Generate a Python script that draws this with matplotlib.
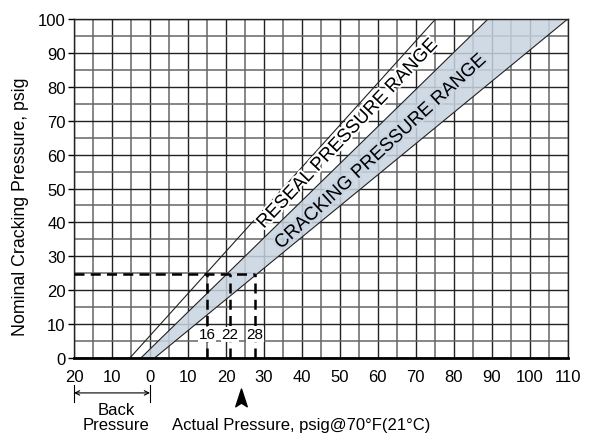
import numpy as np
import matplotlib
matplotlib.use("Agg")
import matplotlib.pyplot as plt
from matplotlib.path import Path
import matplotlib.transforms as mtrans
import matplotlib.patheffects as pe

plt.rcParams['font.family'] = ['Liberation Sans', 'DejaVu Sans']

# axis ticks (x left of 0 is back pressure)
x_ticks = [-20, -10, 0, 10, 20, 30, 40, 50, 60, 70, 80, 90, 100, 110]
x_tick_labels = ['20', '10', '0', '10', '20', '30', '40', '50', '60', '70', '80', '90', '100', '110']
y_ticks = [0, 10, 20, 30, 40, 50, 60, 70, 80, 90, 100]

# boundary lines of the two ranges (actual pressure vs nominal cracking pressure)
reseal_x = [-5.3, 75.2]; reseal_y = [0, 100]
mid_x = [-2.4, 89.0];    mid_y = [0, 100]
crack_x = [1.2, 110.0];  crack_y = [0, 100]

# worked example
nominal = 24.7
example_x = [15.1, 21.0, 27.6]
example_labels = ['16', '22', '28']
example_label_y = 7

BAND = '#c8d4e1'
fig = plt.figure(figsize=(5.97, 4.35), dpi=100)
ax = fig.add_axes([0.124, 0.1747, 0.827, 0.7793])
ax.set_xlim(-20, 110); ax.set_ylim(0, 100)

ax.set_xticks(x_ticks); ax.set_xticklabels(x_tick_labels)
ax.set_xticks(np.arange(-20, 111, 5), minor=True)
ax.set_yticks(y_ticks)
ax.set_yticks(np.arange(0, 101, 5), minor=True)
ax.tick_params(axis='x', which='both', length=0, pad=8, labelsize=12)
ax.tick_params(axis='y', which='major', length=4, width=1, pad=2, labelsize=12)
ax.tick_params(axis='y', which='minor', length=0)
ax.grid(which='major', color='#222222', lw=1.0, zorder=0)
ax.grid(which='minor', color='#666666', lw=1.1, zorder=0)
ax.set_axisbelow(True)
for s in ['top', 'right', 'left']:
    ax.spines[s].set_color('#222222'); ax.spines[s].set_linewidth(1.0)
ax.spines['bottom'].set_linewidth(2.0)

# cracking band
ax.fill(mid_x + crack_x[::-1], mid_y + crack_y[::-1], color=BAND, alpha=0.85, lw=0, zorder=1)
for xs, ys in [(reseal_x, reseal_y), (mid_x, mid_y), (crack_x, crack_y)]:
    ax.plot(xs, ys, color='#222222', lw=0.8, zorder=2)

ax.text(52.1, 66.1, 'RESEAL PRESSURE RANGE', rotation=46.5, ha='center', va='center',
        rotation_mode='anchor', fontsize=13.5, zorder=3,
        path_effects=[pe.withStroke(linewidth=3, foreground='white')])
ax.text(60.8, 60.8, 'CRACKING PRESSURE RANGE', rotation=42.5, ha='center', va='center',
        rotation_mode='anchor', fontsize=13.5, zorder=3,
        path_effects=[pe.withStroke(linewidth=3, foreground=BAND)])

# dashed example lines
ax.plot([-20, max(example_x)], [nominal, nominal], color='black', lw=1.8,
        dashes=(4, 2.5), zorder=4, clip_on=False)
for xv, lab in zip(example_x, example_labels):
    ax.plot([xv, xv], [0, nominal], color='black', lw=1.8, dashes=(4, 2.5), zorder=4)
    ax.text(xv, example_label_y, lab, ha='center', va='center', fontsize=11, zorder=5,
            bbox=dict(fc='white', ec='none', pad=0.3))

fig.text(0.034, 0.524, 'Nominal Cracking Pressure, psig', rotation=90, ha='center',
         va='center', fontsize=12.8)

# back pressure marker and x label
trans = mtrans.blended_transform_factory(ax.transData, ax.transAxes)
ax.annotate('', xy=(-20, -0.103), xytext=(0, -0.103), xycoords=trans, textcoords=trans,
            arrowprops=dict(arrowstyle='<->', lw=0.8, color='black',
                            mutation_scale=8, shrinkA=0, shrinkB=0))
for xv in [-20, 0]:
    ax.plot([xv, xv], [-0.08, -0.13], transform=trans, color='black', lw=0.8, clip_on=False)
ax.text(-9, -0.152, 'Back', transform=trans, ha='center', va='center', fontsize=12)
ax.text(-9, -0.197, 'Pressure', transform=trans, ha='center', va='center', fontsize=12)

arrow_head = Path([(0, 1), (-0.55, -0.7), (0, -0.35), (0.55, -0.7), (0, 1)],
                  [Path.MOVETO, Path.LINETO, Path.LINETO, Path.LINETO, Path.CLOSEPOLY])
ax.plot([24], [-0.121], transform=trans, marker=arrow_head, ms=15, color='black',
        clip_on=False)
ax.text(5.8, -0.197, 'Actual Pressure, psig@70°F(21°C)', transform=trans, ha='left',
        va='center', fontsize=12)

fig.savefig('out.png', dpi=100)
